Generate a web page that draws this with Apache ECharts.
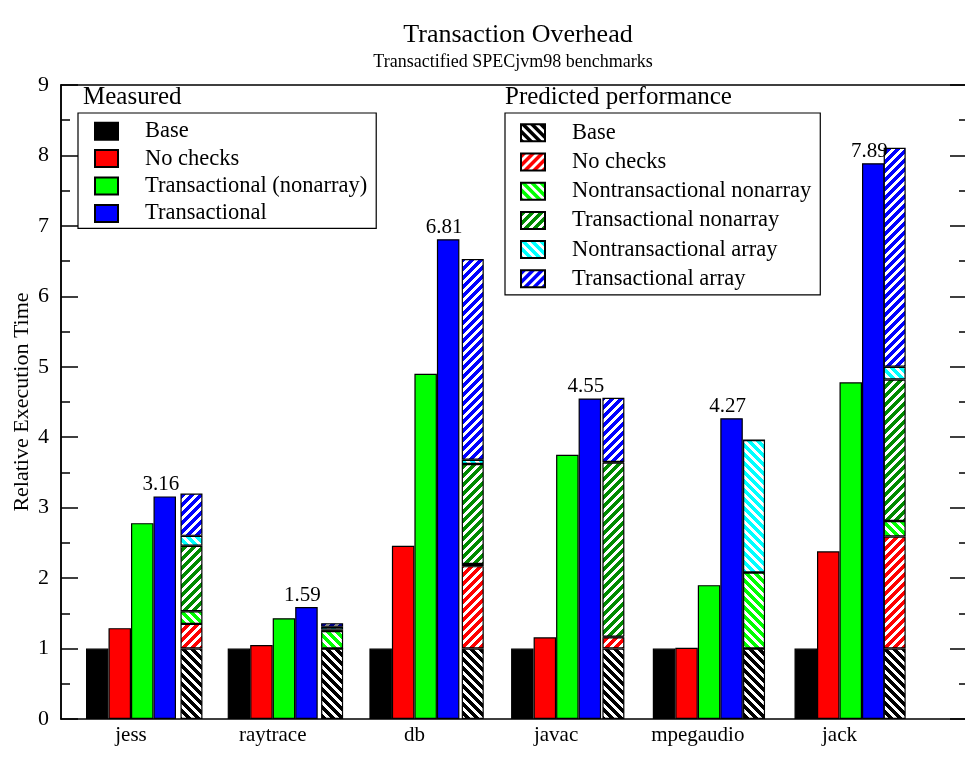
<!DOCTYPE html>
<html>
<head>
<meta charset="utf-8">
<script src="https://cdn.jsdelivr.net/npm/echarts@6.0.0/dist/echarts.min.js"></script>
<style>
html,body{margin:0;padding:0;background:#fff;}
#chart{width:965px;height:757px;}
</style>
</head>
<body>
<div id="chart"></div>
<script>
// ---- data ----
var categories = ['jess', 'raytrace', 'db', 'javac', 'mpegaudio', 'jack'];
// measured
var measBase = [1, 1, 1, 1, 1, 1];
var measNoChecks = [1.29, 1.05, 2.46, 1.16, 1.01, 2.38];
var measTransNonarray = [2.78, 1.43, 4.90, 3.75, 1.90, 4.78];
var measTransactional = [3.16, 1.59, 6.81, 4.55, 4.27, 7.89];
// predicted (stacked increments)
var predBase = [1, 1, 1, 1, 1, 1];
var predNoChecks = [0.35, 0.00, 1.17, 0.16, 0.00, 1.59];
var predNontransNonarray = [0.18, 0.25, 0.03, 0.01, 1.08, 0.22];
var predTransNonarray = [0.93, 0.02, 1.42, 2.47, 0.00, 2.01];
var predNontransArray = [0.14, 0.04, 0.06, 0.01, 1.88, 0.18];
var predTransArray = [0.60, 0.05, 2.85, 0.91, 0.00, 3.11];
var yTicks = [0, 1, 2, 3, 4, 5, 6, 7, 8, 9];

// ---- styling helpers ----
var FONT = '"Liberation Serif", "DejaVu Serif", serif';
function hatch(rgb, dir) {
  var s = 9;
  var c = document.createElement('canvas');
  c.width = s; c.height = s;
  var ctx = c.getContext('2d');
  var img = ctx.createImageData(s, s);
  for (var y = 0; y < s; y++) {
    for (var x = 0; x < s; x++) {
      var k = dir === '/' ? (x + y) % s : ((x - y) % s + s) % s;
      var on = k < 4.5;
      var i = (y * s + x) * 4;
      img.data[i] = on ? rgb[0] : 255;
      img.data[i + 1] = on ? rgb[1] : 255;
      img.data[i + 2] = on ? rgb[2] : 255;
      img.data[i + 3] = 255;
    }
  }
  ctx.putImageData(img, 0, 0);
  return { image: c, repeat: 'repeat' };
}

var catW = 141.7;
var BW = 1.2;

function measSeries(name, data, color, extra) {
  var s = {
    name: name, type: 'bar', xAxisIndex: 2, yAxisIndex: 4,
    data: data, barWidth: 22.5, barGap: '0%',
    itemStyle: { color: color, borderColor: '#000', borderWidth: BW },
    animation: false
  };
  if (extra) for (var k in extra) s[k] = extra[k];
  return s;
}
function predSeries(name, data, fill) {
  return {
    name: 'P:' + name, type: 'bar', xAxisIndex: 3, yAxisIndex: 5, stack: 'pred',
    data: data, barWidth: 22,
    itemStyle: { color: fill, borderColor: '#000', borderWidth: BW },
    animation: false
  };
}
function tickAxis(pos, interval, len, labels, showLine) {
  var a = {
    gridIndex: 0, type: 'value', min: 0, max: 9, interval: interval, position: pos,
    axisLine: { show: showLine, onZero: false, lineStyle: { color: '#000', width: 1.5 } },
    axisTick: { show: true, inside: true, length: len, lineStyle: { color: '#000', width: 1.5 } },
    minorTick: { show: false },
    axisLabel: { show: false }, splitLine: { show: false }
  };
  if (labels) {
    a.axisLabel = { show: true, fontSize: 22, fontFamily: FONT, color: '#000', margin: 12,
      formatter: function (v) { return yTicks.indexOf(v) >= 0 ? String(v) : ''; } };
    a.name = 'Relative Execution Time';
    a.nameLocation = 'middle';
    a.nameGap = 28;
    a.nameMoveOverlap = false;
    a.nameTextStyle = { fontSize: 22, fontFamily: FONT, color: '#000' };
  }
  return a;
}

var chart = echarts.init(document.getElementById('chart'), null, { renderer: 'canvas' });

var option = {
  backgroundColor: '#fff',
  animation: false,
  textStyle: { fontFamily: FONT },
  graphic: [
    { type: 'text', x: 518, y: 22, style: { text: 'Transaction Overhead', textAlign: 'center', fontSize: 26, fontFamily: FONT, fill: '#000' } },
    { type: 'text', x: 513, y: 53, style: { text: 'Transactified SPECjvm98 benchmarks', textAlign: 'center', fontSize: 18, fontFamily: FONT, fill: '#000' } },
    { type: 'text', x: 83, y: 85, style: { text: 'Measured', fontSize: 25, fontFamily: FONT, fill: '#000' } },
    { type: 'text', x: 505, y: 85, style: { text: 'Predicted performance', fontSize: 25, fontFamily: FONT, fill: '#000' } }
  ],
  legend: [
    {
      data: ['Base', 'No checks', 'Transactional (nonarray)', 'Transactional'],
      orient: 'vertical', left: 78, top: 113, padding: [6.7, 9, 3.5, 16],
      itemWidth: 23, itemHeight: 17, itemGap: 4.4,
      borderColor: '#000', borderWidth: 1.2, selectedMode: false,
      icon: 'rect',
      textStyle: { fontSize: 22.5, fontFamily: FONT, color: '#000', padding: [0, 0, 0, 22], lineHeight: 20 }
    },
    {
      data: ['P:Base', 'P:No checks', 'P:Nontransactional nonarray', 'P:Transactional nonarray', 'P:Nontransactional array', 'P:Transactional array'],
      orient: 'vertical', left: 505, top: 113, padding: [8.3, 9, 4.5, 15],
      itemWidth: 24, itemHeight: 17, itemGap: 6.2,
      borderColor: '#000', borderWidth: 1.2, selectedMode: false,
      icon: 'rect',
      formatter: function (n) { return n.replace('P:', ''); },
      textStyle: { fontSize: 22.5, fontFamily: FONT, color: '#000', padding: [0, 0, 0, 22], lineHeight: 20 }
    }
  ],
  grid: [
    { left: 61, right: 0, top: 85, bottom: 38 },
    { left: 131 - catW / 2, width: catW * 6, top: 85, bottom: 38 },
    { left: 192 - catW / 2, width: catW * 6, top: 85, bottom: 38 }
  ],
  xAxis: [
    { gridIndex: 0, type: 'value', min: 0, max: 1, position: 'bottom',
      axisLine: { show: true, onZero: false, lineStyle: { color: '#000', width: 1.5 } },
      axisTick: { show: false }, axisLabel: { show: false }, splitLine: { show: false } },
    { gridIndex: 0, type: 'value', min: 0, max: 1, position: 'top',
      axisLine: { show: true, onZero: false, lineStyle: { color: '#000', width: 1.5 } },
      axisTick: { show: false }, axisLabel: { show: false }, splitLine: { show: false } },
    { gridIndex: 1, type: 'category', data: categories,
      axisLine: { show: false }, axisTick: { show: false }, splitLine: { show: false },
      axisLabel: { interval: 0, margin: 6, fontSize: 21, fontFamily: FONT, color: '#000' } },
    { gridIndex: 2, type: 'category', data: categories,
      axisLine: { show: false }, axisTick: { show: false }, axisLabel: { show: false }, splitLine: { show: false } }
  ],
  yAxis: [
    tickAxis('left', 1, 17, true, true),
    tickAxis('left', 0.5, 9, false, true),
    tickAxis('right', 1, 15, false, false),
    tickAxis('right', 0.5, 6, false, false),
    { gridIndex: 1, type: 'value', min: 0, max: 9,
      axisLine: { show: false }, axisTick: { show: false }, axisLabel: { show: false }, splitLine: { show: false } },
    { gridIndex: 2, type: 'value', min: 0, max: 9,
      axisLine: { show: false }, axisTick: { show: false }, axisLabel: { show: false }, splitLine: { show: false } }
  ],
  series: [
    measSeries('Base', measBase, '#000000'),
    measSeries('No checks', measNoChecks, '#ff0000'),
    measSeries('Transactional (nonarray)', measTransNonarray, '#00ff00'),
    measSeries('Transactional', measTransactional, '#0000ff', {
      label: { show: true, position: 'top', distance: 1, offset: [-4, 0],
        fontSize: 21, fontFamily: FONT, color: '#000',
        formatter: function (p) { return p.value.toFixed(2); } }
    }),
    predSeries('Base', predBase, hatch([0, 0, 0], '\\')),
    predSeries('No checks', predNoChecks, hatch([255, 0, 0], '/')),
    predSeries('Nontransactional nonarray', predNontransNonarray, hatch([0, 255, 0], '\\')),
    predSeries('Transactional nonarray', predTransNonarray, hatch([0, 139, 0], '/')),
    predSeries('Nontransactional array', predNontransArray, hatch([0, 255, 255], '\\')),
    predSeries('Transactional array', predTransArray, hatch([0, 0, 255], '/'))
  ]
};
chart.setOption(option);
</script>
</body>
</html>
